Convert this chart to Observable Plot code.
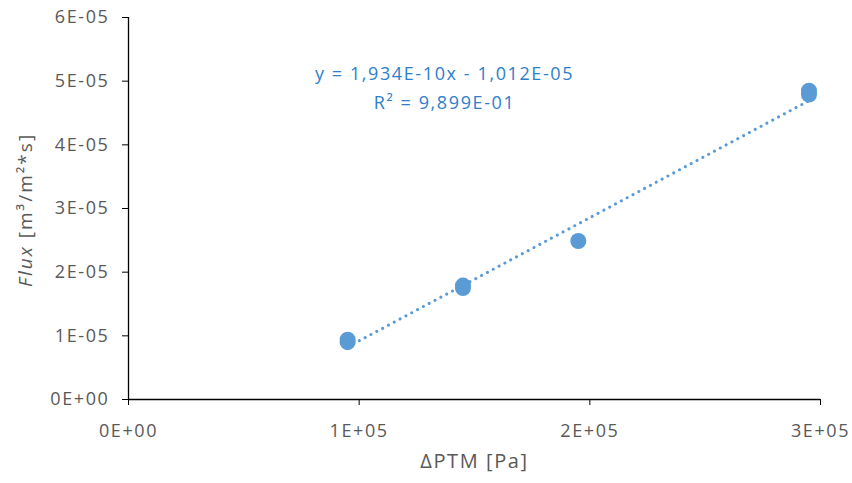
<!DOCTYPE html>
<html>
<head>
<meta charset="utf-8">
<script src="https://cdn.jsdelivr.net/npm/d3@7"></script>
<script src="https://cdn.jsdelivr.net/npm/@observablehq/plot@0.6"></script>
<style>
  html, body { margin: 0; padding: 0; background: #fff; }
  #chart { width: 852px; height: 483px; }
  #chart svg text { letter-spacing: 1.6px; }
</style>
</head>
<body>
<div id="chart"></div>
<script>
// ---- data ----
const pressure = [95000, 95000, 145000, 145000, 195000, 295000, 295000];
const flux = [9.0e-6, 9.4e-6, 1.75e-5, 1.79e-5, 2.49e-5, 4.79e-5, 4.85e-5];
const xTicks = [0, 1e5, 2e5, 3e5];
const yTicks = [0, 1e-5, 2e-5, 3e-5, 4e-5, 5e-5, 6e-5];
const slope = 1.934e-10;
const intercept = -1.012e-5;
const equationLines = ["y = 1,934E-10x - 1,012E-05", "R² = 9,899E-01"];
const xLabel = "ΔPTM [Pa]";
const yLabelItalic = "Flux";
const yLabelRest = " [m³/m²*s]";

const pts = pressure.map((p, i) => ({x: p, y: flux[i]}));
const xMin = d3.min(pressure), xMax = d3.max(pressure);
const trend = [xMin, xMax].map(x => ({x, y: slope * x + intercept}));

function sci(d) {
  if (d === 0) return "0E+00";
  const e = Math.floor(Math.log10(Math.abs(d)) + 1e-9);
  const m = Math.round(d / Math.pow(10, e));
  return `${m}E${e < 0 ? "-" : "+"}${String(Math.abs(e)).padStart(2, "0")}`;
}

const blue = "#5B9BD5";
const gray = "#595959";
const font = "'Open Sans', sans-serif";

const chart = Plot.plot({
  width: 852,
  height: 483,
  marginLeft: 128,
  marginRight: 32,
  marginTop: 17,
  marginBottom: 84,
  style: {fontFamily: font, fontSize: "18px", background: "#fff"},
  x: {domain: [0, 3e5]},
  y: {domain: [0, 6e-5]},
  marks: [
    Plot.axisX({ticks: xTicks, tickFormat: sci, tickSize: 6, tickPadding: 19, stroke: "#000", fill: gray, fontSize: 18, label: null}),
    Plot.axisY({ticks: yTicks, tickFormat: sci, tickSize: 6, tickPadding: 13, stroke: "#000", fill: gray, fontSize: 18, label: null}),
    Plot.ruleY([0], {stroke: "#000", strokeWidth: 1.3}),
    Plot.ruleX([0], {stroke: "#000", strokeWidth: 1.3}),
    Plot.line(trend, {x: "x", y: "y", stroke: blue, strokeWidth: 3, strokeDasharray: "0.1 6.5", strokeLinecap: "round"}),
    Plot.dot(pts, {x: "x", y: "y", r: 8, fill: blue, stroke: "none"}),
    Plot.text([equationLines.join("\n")], {frameAnchor: "top", dx: -30, dy: 42, text: d => d, fill: "#2E80CC", fontSize: 18, lineHeight: 1.6, textAnchor: "middle"}),
    Plot.text([xLabel], {frameAnchor: "bottom", dy: 68, text: d => d, fill: gray, fontSize: 20})
  ]
});

const svg = d3.select(chart);
const t = svg.append("text")
  .attr("transform", `translate(25, 210) rotate(-90)`)
  .attr("text-anchor", "middle")
  .attr("dy", "0.35em")
  .attr("fill", gray)
  .attr("font-size", 19)
  .attr("font-family", font)
  .style("letter-spacing", "2px");
t.append("tspan").attr("font-style", "italic").text(yLabelItalic);
t.append("tspan").text(yLabelRest);

document.getElementById("chart").appendChild(chart);
</script>
</body>
</html>
